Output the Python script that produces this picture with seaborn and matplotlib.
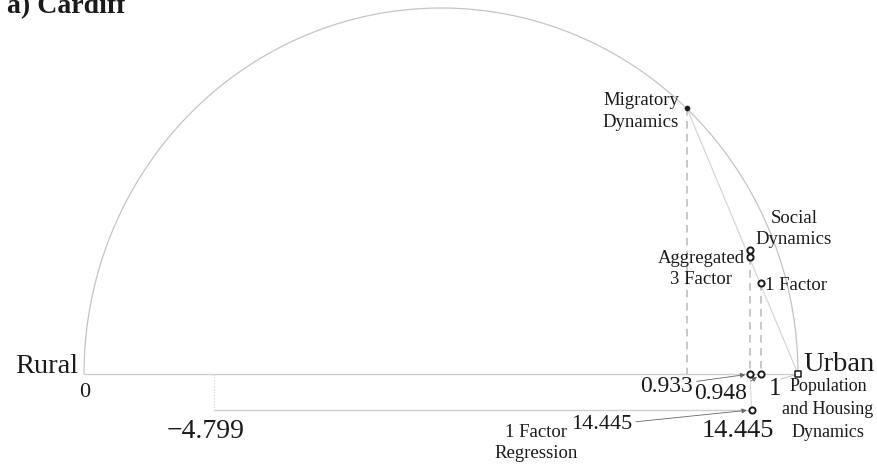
import numpy as np
import pandas as pd
import matplotlib
matplotlib.use("Agg")
import matplotlib.pyplot as plt
import seaborn as sns

# Models placed on the rural (0) - urban (1) semicircle diagram
models = ["Migratory\nDynamics", "Social\nDynamics", "Aggregated\n3 Factor",
          "1 Factor", "Population\nand Housing\nDynamics"]
projection = [0.844, 0.933, 0.933, 0.948, 1.0]
elevation = [0.364, 0.170, 0.160, 0.124, 0.0]

end_labels = ["Rural", "Urban"]
end_values = [0, 1]

# Scores printed on the rural-urban axis
axis_scores = [0.933, 0.948]

# Lower track: 1 factor regression scale
regression_range = [-4.799, 14.445]
regression_label = "1 Factor\nRegression"
panel_title = "a) Cardiff"

sns.set_theme(style="white")
plt.rcParams["font.family"] = ["Liberation Serif", "DejaVu Serif"]

W, H = 877, 465
fig = plt.figure(figsize=(W / 100, H / 100), dpi=100)
ax = fig.add_axes([0, 0, 1, 1])

# pixel-to-data layout: baseline from x=84 to 798 px at y=374 px
X0, XS, Y0, YS = 84.0, 714.0, 374.0, 732.0
ax.set_xlim(-X0 / XS, (W - X0) / XS)
ax.set_ylim((Y0 - H) / YS, Y0 / YS)
ax.axis("off")


def px(x, y):
    return (x - X0) / XS, (Y0 - y) / YS


ink = "#1a1a1a"
light = "#cfcfcf"
dash_col = "#b8b8b8"

# semicircle with the rural-urban axis as its diameter
theta = np.linspace(0, np.pi, 400)
arc = pd.DataFrame({"x": 0.5 + 0.5 * np.cos(theta), "y": 0.5 * np.sin(theta)})
sns.lineplot(data=arc, x="x", y="y", sort=False, estimator=None, color="#c4c4c4",
             lw=0.9, ax=ax)

# base axis
ax.plot(end_values, [0, 0], color=light, lw=1.0, zorder=1)

df = pd.DataFrame({"model": models, "x": projection, "y": elevation})

# chord from the migratory point to the urban end
ax.plot([df.x[0], end_values[1]], [df.y[0], 0], color="#d6d6d6", lw=0.9, zorder=1)

# dashed projections onto the axis (one per distinct position, from the lowest point)
drops = df[df.y > 0].sort_values("y").drop_duplicates("x")
for _, r in drops.iterrows():
    ax.plot([r.x, r.x], [r.y, 0], color=dash_col, lw=1.1, ls=(0, (5, 3.5)), zorder=1)

# lower regression track
lo, hi = regression_range
track_y = -0.049
track_x = lambda v: 0.182 + (v - lo) / (hi - lo) * (0.935 - 0.182)
ax.plot([track_x(lo), track_x(hi)], [track_y, track_y], color=light, lw=1.0, zorder=1)
ax.plot([track_x(lo), track_x(lo)], [0, track_y], color="#d0d0d0", lw=0.8, ls=":", zorder=1)
ax.plot([axis_scores[0], track_x(hi)], [0, track_y], color="#dadada", lw=0.8, zorder=1)

# points on the diagram
sns.scatterplot(x=df.x[:1], y=df.y[:1], color=ink, s=14, edgecolor=ink, ax=ax, zorder=4)
sns.scatterplot(x=df.x[1:4], y=df.y[1:4], facecolor="white", edgecolor=ink, s=20,
                linewidth=1.4, ax=ax, zorder=4)
sns.scatterplot(x=axis_scores, y=[0, 0], facecolor="white", edgecolor=ink, s=20,
                linewidth=1.4, ax=ax, zorder=4)
sns.scatterplot(x=[df.x[4]], y=[df.y[4]], marker="s", facecolor="white", edgecolor=ink,
                s=24, linewidth=1.1, ax=ax, zorder=4)
sns.scatterplot(x=[track_x(hi)], y=[track_y], facecolor="white", edgecolor=ink, s=20,
                linewidth=1.4, ax=ax, zorder=4)

# model labels
lab = dict(color=ink, fontsize=13.5, ha="center", va="center")
ax.text(*px(641, 111.5), models[0], linespacing=1.32, **lab)
ax.text(*px(794, 229), models[1], linespacing=1.38, **lab)
ax.text(*px(701, 269), models[2], linespacing=1.25, **lab)
ax.text(*px(765, 285), models[3], linespacing=1.2, **{**lab, "ha": "left"})
ax.text(*px(828, 409.5), models[4], linespacing=1.44, **{**lab, "fontsize": 13})

# end labels and end values
ax.text(*px(78, 366), end_labels[0], color=ink, fontsize=20.5, ha="right", va="center")
ax.text(*px(803, 364), end_labels[1], color=ink, fontsize=20.5, ha="left", va="center")
ax.text(*px(85, 392), f"{end_values[0]}", color=ink, fontsize=16, ha="center", va="center")
ax.text(*px(775, 389), f"{end_values[1]}", color=ink, fontsize=18, ha="center", va="center")
ax.plot(*zip(px(781, 379), (end_values[1], 0)), color="#bdbdbd", lw=0.6, zorder=1)

# regression scale labels
ax.text(*px(206, 431), f"\u2212{abs(lo):.3f}", color=ink, fontsize=20, ha="center", va="center")
ax.text(*px(738, 431), f"{hi:.3f}", color=ink, fontsize=19, ha="center", va="center")
ax.text(*px(536, 443), regression_label, color=ink, fontsize=13.5, ha="center",
        va="center", linespacing=1.25)

arrow = dict(arrowstyle="-|>", color="#666666", lw=0.6, mutation_scale=7,
             shrinkA=0, shrinkB=3.5)
ax.annotate(f"{hi:.3f}", xy=(track_x(hi), track_y), xytext=px(602, 424),
            fontsize=16, color=ink, ha="center", va="center",
            arrowprops={**arrow, "relpos": (1.0, 0.6)})
ax.annotate(f"{axis_scores[0]:.3f}", xy=(axis_scores[0], 0), xytext=px(667, 386),
            fontsize=17, color=ink, ha="center", va="center",
            arrowprops={**arrow, "relpos": (1.0, 0.7)})
ax.annotate(f"{axis_scores[1]:.3f}", xy=(axis_scores[1], 0), xytext=px(721, 393),
            fontsize=17, color=ink, ha="center", va="center",
            arrowprops={**arrow, "relpos": (0.95, 0.85)})

fig.text(7 / W, 1 - 13 / H, panel_title, fontsize=20, fontweight="bold",
         color=ink, ha="left", va="baseline")

fig.savefig("out.png", dpi=100, facecolor="white")
